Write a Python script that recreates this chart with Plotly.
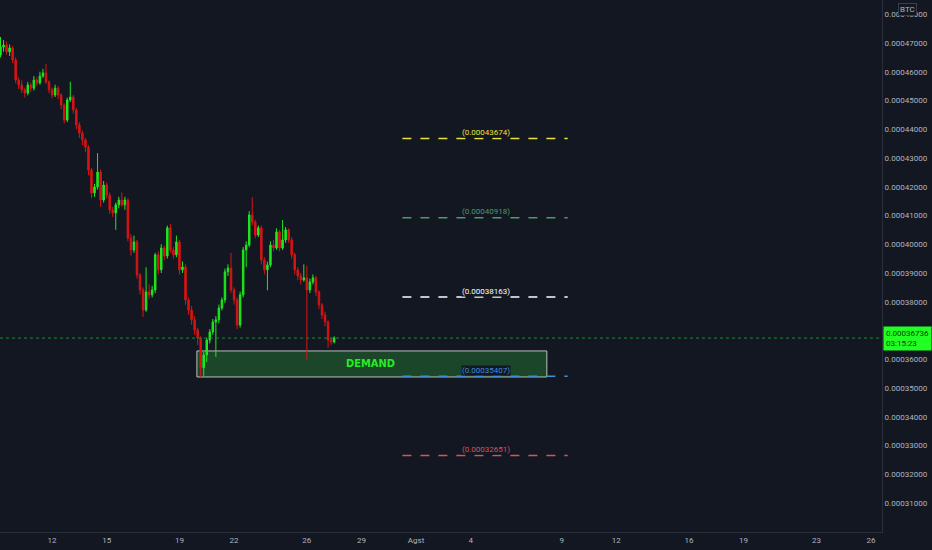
import pandas as pd
import plotly.graph_objects as go

# 4h candles, prices in units of 1e-8 BTC (satoshi)
start = "2021-07-09 00:00"
opens = [46300, 46580, 46860, 46930, 46690, 46830, 46410, 45710, 45540, 45370,
         45260, 45540, 45430, 45710, 45610, 45850, 45960, 45640, 45370, 45190,
         45430, 45190, 44840, 44320, 45020, 45120, 44670, 44150, 43870, 43630,
         43380, 42580, 41780, 41990, 42510, 41540, 42060, 41710, 41190, 41090,
         41370, 41540, 41370, 41540, 40220, 39800, 40080, 38930, 38410, 37710,
         38340, 38240, 38410, 39630, 39110, 39870, 39590, 40570, 39800, 39630,
         40080, 39110, 39210, 38060, 37710, 37370, 37020, 36740, 35700, 36150,
         36670, 36950, 37300, 37370, 37780, 38060, 39040, 39170, 38410, 38060,
         37190, 38240, 39800, 39970, 41020, 40770, 40320, 40570, 39450, 39110,
         39280, 39970, 39870, 40430, 39870, 40150, 40500, 40150, 39630, 39110,
         38900, 38760, 38830, 38410, 38690, 38830, 38340, 37890, 37540, 37300,
         36670, 36600]
highs = [46700, 47210, 47100, 47050, 46950, 46900, 46500, 45800, 45700, 45450,
         45650, 45620, 45850, 45800, 46000, 46100, 46280, 45700, 45450, 45550,
         45500, 45250, 44900, 45100, 45650, 45200, 44750, 44250, 43950, 43700,
         43450, 42650, 42100, 43170, 42600, 42200, 42150, 41800, 41300, 41450,
         41650, 41800, 41650, 41600, 40350, 40300, 40150, 39000, 38500, 39200,
         38600, 38550, 39700, 39750, 40000, 39950, 40650, 40700, 39900, 40300,
         40150, 39400, 39300, 38150, 37850, 37500, 37100, 36800, 36250, 36750,
         37050, 37400, 37500, 37900, 38150, 39150, 39300, 39700, 38500, 38150,
         38350, 39900, 40100, 41150, 41640, 40850, 40650, 40650, 39550, 39400,
         40100, 40150, 40550, 40500, 40840, 40600, 40550, 40250, 39700, 39200,
         39000, 39300, 39250, 38800, 38950, 38900, 38400, 37950, 37650, 37350,
         36750, 36800]
lows = [46200, 46500, 46700, 46600, 46550, 46300, 45600, 45400, 45250, 45100,
        45180, 45300, 45350, 45500, 45550, 45780, 45580, 45250, 45080, 45120,
        45050, 44700, 44200, 44250, 44950, 44550, 44000, 43700, 43450, 43200,
        42400, 41600, 41650, 41900, 41300, 41450, 41600, 41050, 40950, 40500,
        41250, 41300, 41200, 40100, 39600, 39700, 38800, 38250, 37470, 37650,
        38100, 38150, 38300, 38950, 39000, 39450, 39500, 39700, 39500, 39550,
        38950, 39000, 37900, 37550, 37200, 36850, 36500, 35380, 35420, 35900,
        36550, 36850, 36080, 37250, 37700, 37950, 38900, 38300, 37900, 37050,
        37100, 38150, 39200, 39900, 40650, 40200, 40250, 39300, 38950, 38400,
        39200, 39750, 39800, 39750, 39800, 40050, 40050, 39500, 38950, 38750,
        38600, 38700, 35970, 38300, 38600, 38200, 37750, 37400, 37150, 36400,
        36500, 36550]
closes = [46580, 46860, 46930, 46690, 46830, 46410, 45710, 45540, 45370, 45260,
          45540, 45430, 45710, 45610, 45850, 45960, 45640, 45370, 45190, 45430,
          45190, 44840, 44320, 45020, 45120, 44670, 44150, 43870, 43630, 43380,
          42580, 41780, 41990, 42510, 41540, 42060, 41710, 41190, 41090, 41370,
          41540, 41370, 41540, 40220, 39800, 40080, 38930, 38410, 37710, 38340,
          38240, 38410, 39630, 39110, 39870, 39590, 40570, 39800, 39630, 40080,
          39110, 39210, 38060, 37710, 37370, 37020, 36740, 35700, 36150, 36670,
          36950, 37300, 37370, 37780, 38060, 39040, 39170, 38410, 38060, 37190,
          38240, 39800, 39970, 41020, 40770, 40320, 40570, 39450, 39110, 39280,
          39970, 39870, 40430, 39870, 40150, 40500, 40150, 39630, 39110, 38900,
          38760, 38830, 38410, 38690, 38830, 38340, 37890, 37540, 37300, 36670,
          36600, 36736]

level_prices = [0.00043674, 0.00040918, 0.00038163, 0.00035407, 0.00032651]
level_colors = ["#e8e337", "#4e9a63", "#ffffff", "#3d8fd6", "#d9525a"]
level_start, level_end = "2021-07-31 06:00", "2021-08-09 08:00"

demand_top, demand_bottom = 0.00036288, 0.00035383
demand_start, demand_end = "2021-07-19 23:00", "2021-08-08 04:30"

last_price = 0.00036736
countdown = "03:15:23"

price_ticks = [0.00031, 0.00032, 0.00033, 0.00034, 0.00035, 0.00036, 0.00037, 0.00038, 0.00039,
               0.00040, 0.00041, 0.00042, 0.00043, 0.00044, 0.00045, 0.00046, 0.00047, 0.00048]
tick_dates = ["2021-07-12", "2021-07-15", "2021-07-19", "2021-07-22", "2021-07-26",
              "2021-07-29", "2021-08-01", "2021-08-04", "2021-08-09", "2021-08-12",
              "2021-08-16", "2021-08-19", "2021-08-23", "2021-08-26"]
tick_text = ["12", "15", "19", "22", "26", "29", "Agst", "4", "9", "12", "16", "19", "23", "26"]

sat = 1e-8
df = pd.DataFrame({
    "time": pd.date_range(start, periods=len(closes), freq="4h"),
    "open": [v * sat for v in opens],
    "high": [v * sat for v in highs],
    "low": [v * sat for v in lows],
    "close": [v * sat for v in closes],
})

bg = "#131722"
green = "#1ee81e"
red = "#d81414"

fig = go.Figure()
fig.add_trace(go.Candlestick(
    x=df["time"], open=df["open"], high=df["high"], low=df["low"], close=df["close"],
    increasing=dict(line=dict(color=green, width=1), fillcolor=green),
    decreasing=dict(line=dict(color=red, width=1), fillcolor=red),
    whiskerwidth=0, showlegend=False, hoverinfo="skip",
))

# demand zone
fig.add_shape(type="rect", x0=demand_start, x1=demand_end, y0=demand_bottom, y1=demand_top,
              fillcolor="rgba(36,110,48,0.55)", line=dict(color="#b8c2b8", width=1), layer="below")
fig.add_annotation(x="2021-07-29 12:00", y=(demand_top + demand_bottom) / 2, text="<b>DEMAND</b>",
                   showarrow=False, font=dict(color="#22ee22", size=11, family="DejaVu Sans Condensed"))

# dashed levels
for p, c in zip(level_prices, level_colors):
    fig.add_shape(type="line", x0=level_start, x1=level_end, y0=p, y1=p,
                  line=dict(color=c, width=1.5, dash="dash"))
    fig.add_annotation(x="2021-08-04 20:00", y=p, yshift=6, text="(%.8f)" % p, showarrow=False,
                       font=dict(color=c, size=8), bgcolor=bg, borderpad=0)

# last price line and label
fig.add_shape(type="line", xref="paper", x0=0, x1=1, y0=last_price, y1=last_price,
              line=dict(color="#1f8a34", width=1, dash="dot"))
fig.add_annotation(xref="paper", x=1.0, xanchor="left", y=last_price, yanchor="middle",
                   text="%.8f<br>%s" % (last_price, countdown), showarrow=False, align="left",
                   font=dict(color="#0a3a0a", size=8), bgcolor="#22ff22", borderpad=2, xshift=1)
fig.add_annotation(xref="paper", yref="paper", x=1.0, y=1.0, xanchor="left", yanchor="top",
                   xshift=16, yshift=-3, text="BTC", showarrow=False,
                   font=dict(color="#b2b5be", size=8), bordercolor="#3a3e49", borderwidth=1,
                   bgcolor=bg, borderpad=1)

fig.update_layout(
    width=932, height=550,
    margin=dict(l=0, r=50, t=0, b=18),
    paper_bgcolor=bg, plot_bgcolor=bg,
    font=dict(family="Roboto", color="#b2b5be", size=8),
    xaxis=dict(range=["2021-07-09 03:20", "2021-08-26 14:30"], rangeslider=dict(visible=False),
               tickvals=tick_dates, ticktext=tick_text, showgrid=False, zeroline=False,
               showline=True, linecolor="#2a2e39", ticks="", tickfont=dict(size=8)),
    yaxis=dict(side="right", range=[0.0002999, 0.00048496], tickvals=price_ticks, tickformat=".8f",
               showgrid=False, zeroline=False, showline=True, linecolor="#2a2e39",
               ticks="", tickfont=dict(size=8)),
)

fig.write_html("out.html", config={"displayModeBar": False},
               post_script="document.body.style.margin='0';document.body.style.background='#131722';")
